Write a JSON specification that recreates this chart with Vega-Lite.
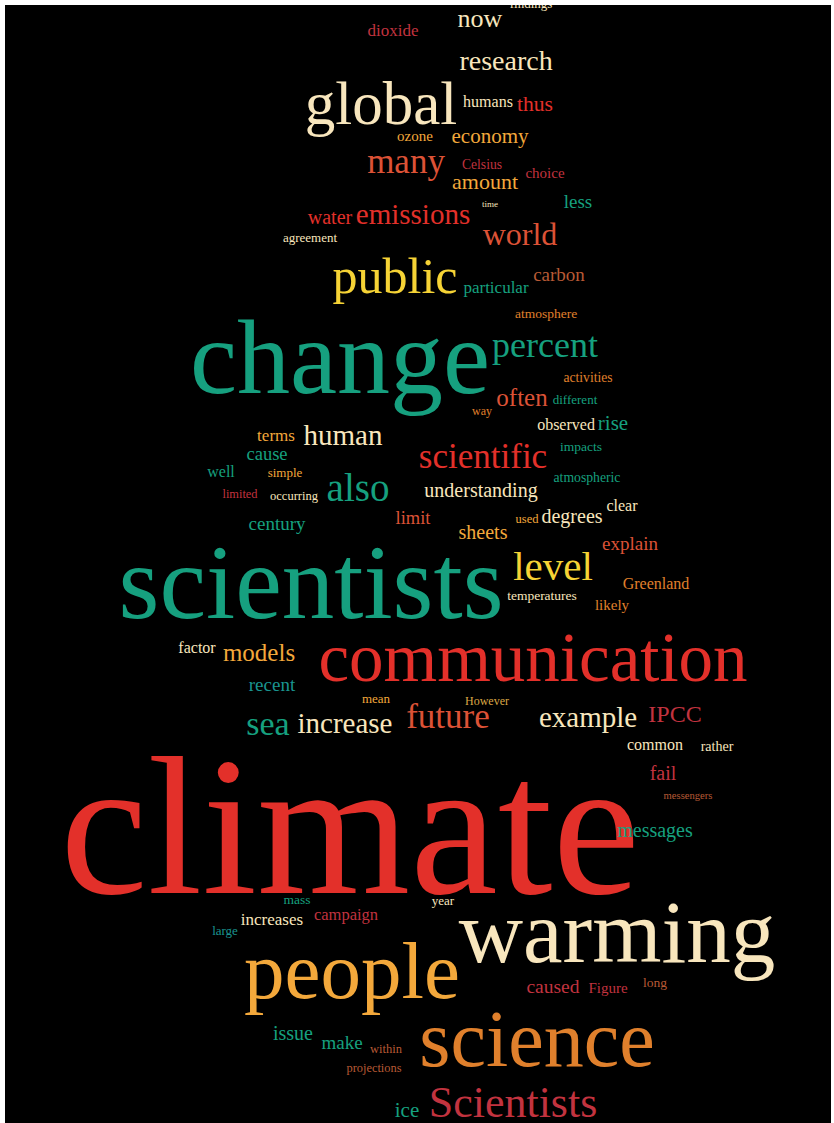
{
  "$schema": "https://vega.github.io/schema/vega-lite/v6.json",
  "width": 826,
  "height": 1118,
  "padding": {"left": 5, "top": 5, "right": 3, "bottom": 0},
  "autosize": "none",
  "background": "white",
  "config": {"view": {"fill": "black", "stroke": null}},
  "data": {
    "values": [
      {"w": "climate", "x": 350, "y": 893, "s": 197, "t": "red"},
      {"w": "scientists", "x": 311, "y": 618, "s": 105, "t": "green"},
      {"w": "communication", "x": 533, "y": 681, "s": 69, "t": "red"},
      {"w": "change", "x": 340, "y": 393, "s": 106, "t": "green"},
      {"w": "people", "x": 352, "y": 998, "s": 81, "t": "orange"},
      {"w": "warming", "x": 617, "y": 962, "s": 89, "t": "cream"},
      {"w": "science", "x": 537, "y": 1066, "s": 80, "t": "darkorange"},
      {"w": "global", "x": 381, "y": 124, "s": 61, "t": "cream"},
      {"w": "Scientists", "x": 513, "y": 1117, "s": 44, "t": "crimson"},
      {"w": "public", "x": 395, "y": 293, "s": 50, "t": "yellow"},
      {"w": "also", "x": 358, "y": 501, "s": 39, "t": "green"},
      {"w": "level", "x": 553, "y": 580, "s": 41, "t": "yellow"},
      {"w": "scientific", "x": 483, "y": 468, "s": 35, "t": "red"},
      {"w": "percent", "x": 545, "y": 357, "s": 36, "t": "green"},
      {"w": "human", "x": 343, "y": 445, "s": 29, "t": "cream"},
      {"w": "world", "x": 520, "y": 245, "s": 32, "t": "brick"},
      {"w": "many", "x": 406, "y": 173, "s": 35, "t": "brick"},
      {"w": "emissions", "x": 413, "y": 224, "s": 29, "t": "red"},
      {"w": "future", "x": 448, "y": 728, "s": 35, "t": "brick"},
      {"w": "example", "x": 588, "y": 727, "s": 29, "t": "cream"},
      {"w": "increase", "x": 345, "y": 733, "s": 29, "t": "cream"},
      {"w": "sea", "x": 268, "y": 735, "s": 34, "t": "green"},
      {"w": "IPCC", "x": 675, "y": 722, "s": 24, "t": "crimson"},
      {"w": "models", "x": 259, "y": 661, "s": 25, "t": "orange"},
      {"w": "research", "x": 506, "y": 70, "s": 28, "t": "cream"},
      {"w": "now", "x": 480, "y": 27, "s": 26, "t": "cream"},
      {"w": "often", "x": 522, "y": 406, "s": 25, "t": "brick"},
      {"w": "degrees", "x": 572, "y": 523, "s": 20, "t": "cream"},
      {"w": "sheets", "x": 483, "y": 539, "s": 20, "t": "orange"},
      {"w": "economy", "x": 490, "y": 143, "s": 21, "t": "orange"},
      {"w": "amount", "x": 485, "y": 189, "s": 22, "t": "orange"},
      {"w": "understanding", "x": 481, "y": 497, "s": 20, "t": "cream"},
      {"w": "dioxide", "x": 393, "y": 36, "s": 17, "t": "crimson"},
      {"w": "messages", "x": 655, "y": 837, "s": 20, "t": "green"},
      {"w": "particular", "x": 496, "y": 293, "s": 17, "t": "green"},
      {"w": "carbon", "x": 559, "y": 281, "s": 19, "t": "brown"},
      {"w": "explain", "x": 630, "y": 550, "s": 19, "t": "brick"},
      {"w": "Greenland", "x": 656, "y": 589, "s": 16, "t": "darkorange"},
      {"w": "observed", "x": 566, "y": 430, "s": 16, "t": "cream"},
      {"w": "rise", "x": 613, "y": 430, "s": 21, "t": "green"},
      {"w": "campaign", "x": 346, "y": 920, "s": 16.5, "t": "crimson"},
      {"w": "increases", "x": 272, "y": 925, "s": 17, "t": "cream"},
      {"w": "caused", "x": 553, "y": 993, "s": 19.5, "t": "crimson"},
      {"w": "Figure", "x": 608, "y": 993, "s": 15, "t": "crimson"},
      {"w": "issue", "x": 293, "y": 1040, "s": 20, "t": "green"},
      {"w": "make", "x": 342, "y": 1049, "s": 19, "t": "green"},
      {"w": "ice", "x": 407, "y": 1117, "s": 21, "t": "green"},
      {"w": "recent", "x": 272, "y": 691, "s": 19, "t": "teal"},
      {"w": "century", "x": 277, "y": 530, "s": 19, "t": "green"},
      {"w": "limit", "x": 413, "y": 524, "s": 18.5, "t": "brick"},
      {"w": "cause", "x": 267, "y": 460, "s": 18.5, "t": "green"},
      {"w": "terms", "x": 276, "y": 441, "s": 17, "t": "orange"},
      {"w": "less", "x": 578, "y": 208, "s": 19, "t": "green"},
      {"w": "water", "x": 330, "y": 224, "s": 20, "t": "red"},
      {"w": "thus", "x": 535, "y": 111, "s": 21.6, "t": "red"},
      {"w": "humans", "x": 488, "y": 107, "s": 16, "t": "cream"},
      {"w": "choice", "x": 545, "y": 178, "s": 15, "t": "crimson"},
      {"w": "well", "x": 221, "y": 477, "s": 16, "t": "green"},
      {"w": "factor", "x": 197, "y": 653, "s": 16, "t": "cream"},
      {"w": "common", "x": 655, "y": 750, "s": 16, "t": "cream"},
      {"w": "However", "x": 487, "y": 705, "s": 12, "t": "gold"},
      {"w": "fail", "x": 663, "y": 780, "s": 20, "t": "crimson"},
      {"w": "Celsius", "x": 482, "y": 169, "s": 13.6, "t": "crimson"},
      {"w": "ozone", "x": 415, "y": 141, "s": 15, "t": "orange"},
      {"w": "agreement", "x": 310, "y": 242, "s": 13, "t": "cream"},
      {"w": "atmosphere", "x": 546, "y": 318, "s": 13.5, "t": "darkorange"},
      {"w": "activities", "x": 588, "y": 382, "s": 13.6, "t": "darkorange"},
      {"w": "different", "x": 575, "y": 404, "s": 13, "t": "green"},
      {"w": "way", "x": 482, "y": 415, "s": 12, "t": "darkorange"},
      {"w": "impacts", "x": 581, "y": 451, "s": 13.5, "t": "green"},
      {"w": "atmospheric", "x": 587, "y": 482, "s": 13.7, "t": "green"},
      {"w": "simple", "x": 285, "y": 477, "s": 13, "t": "orange"},
      {"w": "limited", "x": 240, "y": 498, "s": 12.4, "t": "crimson"},
      {"w": "occurring", "x": 294, "y": 500, "s": 12.5, "t": "cream"},
      {"w": "used", "x": 527, "y": 523, "s": 12.5, "t": "orange"},
      {"w": "clear", "x": 622, "y": 511, "s": 16, "t": "cream"},
      {"w": "temperatures", "x": 542, "y": 600, "s": 13.5, "t": "cream"},
      {"w": "likely", "x": 612, "y": 610, "s": 15, "t": "darkorange"},
      {"w": "mean", "x": 376, "y": 703, "s": 13, "t": "orange"},
      {"w": "rather", "x": 717, "y": 751, "s": 14, "t": "cream"},
      {"w": "messengers", "x": 688, "y": 799, "s": 10.6, "t": "brown"},
      {"w": "mass", "x": 297, "y": 904, "s": 13.5, "t": "green"},
      {"w": "year", "x": 443, "y": 905, "s": 13, "t": "cream"},
      {"w": "large", "x": 225, "y": 935, "s": 13, "t": "teal"},
      {"w": "long", "x": 655, "y": 987, "s": 13.5, "t": "brown"},
      {"w": "within", "x": 386, "y": 1053, "s": 12.5, "t": "brown"},
      {"w": "projections", "x": 374, "y": 1072, "s": 12.4, "t": "brown"},
      {"w": "time", "x": 490, "y": 207, "s": 9, "t": "cream"},
      {"w": "findings", "x": 531, "y": 8, "s": 13, "t": "cream"}
    ]
  },
  "mark": {"type": "text", "font": "Liberation Serif", "baseline": "alphabetic", "align": "center", "clip": true},
  "encoding": {
    "x": {"field": "x", "type": "quantitative", "scale": {"domain": [5, 831], "nice": false, "zero": false}, "axis": null},
    "y": {"field": "y", "type": "quantitative", "scale": {"domain": [5, 1123], "nice": false, "zero": false, "reverse": true}, "axis": null},
    "size": {"field": "s", "type": "quantitative", "scale": null, "legend": null},
    "color": {
      "field": "t", "type": "nominal", "legend": null,
      "scale": {
        "domain": ["red", "green", "teal", "cream", "yellow", "orange", "gold", "darkorange", "crimson", "brick", "brown"],
        "range": ["#e3302a", "#16a07f", "#1a9490", "#f8e6bd", "#f6d335", "#f3a83b", "#dba745", "#e0802c", "#c2333f", "#dc5236", "#b85a35"]
      }
    },
    "text": {"field": "w"}
  }
}
